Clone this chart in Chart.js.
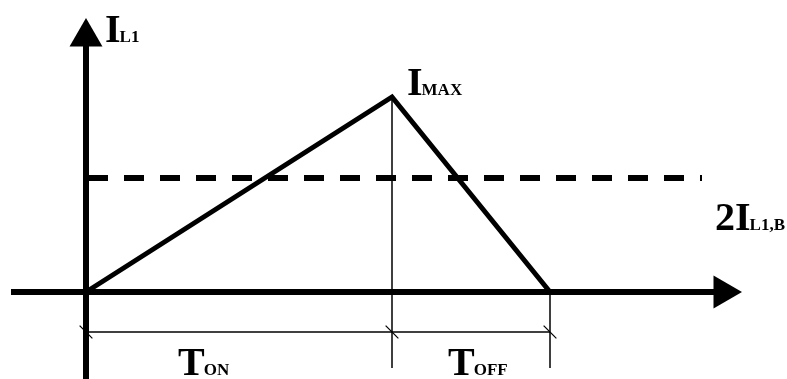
<!DOCTYPE html>
<html>
<head>
<meta charset="utf-8">
<script src="https://cdn.jsdelivr.net/npm/chart.js@4.4.1/dist/chart.umd.min.js"></script>
<style>
  html, body { margin: 0; padding: 0; background: #fff; }
  #box { width: 787px; height: 379px; }
</style>
</head>
<body>
<div id="box"><canvas id="grafico" width="787" height="379"></canvas></div>
<script>
// Tempos (unidades do eixo x) e correntes (unidades do eixo y)
const temposX = [0, 306, 464];          // inicio, fim de TON, fim de TOFF
const correnteIL1 = [0, 195, 0];        // forma de onda triangular
const nivelBoundary = 114;              // 2IL1,B
const tracejadoX = [2, 616];            // extensao da linha tracejada
const eixoX = [-75, 637];               // eixo horizontal (ponta da seta no fim)
const eixoY = [-87, 255];               // eixo vertical (ponta da seta no fim)
const nivelCota = -40;                  // linha de cota de TON / TOFF
const fundoGuias = -76;                 // fim das linhas de chamada

// Rotulos: texto principal, subscrito e ancora (x, y)
const rotulos = [
    { txt: 'I', sub: 'L1', x: 19, y: 250 },
    { txt: 'I', sub: 'MAX', x: 321, y: 197 },
    { txt: '2I', sub: 'L1,B', x: 629, y: 62 },
    { txt: 'T', sub: 'ON', x: 92, y: -83 },
    { txt: 'T', sub: 'OFF', x: 362, y: -83 }
];

function pts(xs, ys) {
    return xs.map((x, i) => ({ x: x, y: ys[i] }));
}

const pluginRotulos = {
    id: 'rotulos',
    afterDatasetsDraw(chart) {
        const ctx = chart.ctx;
        const sx = chart.scales.x, sy = chart.scales.y;
        ctx.save();
        ctx.fillStyle = '#000';
        ctx.textBaseline = 'alphabetic';
        rotulos.forEach(r => {
            let px = sx.getPixelForValue(r.x);
            const py = sy.getPixelForValue(r.y);
            ctx.font = 'bold 40px "Liberation Serif"';
            ctx.fillText(r.txt, px, py);
            px += ctx.measureText(r.txt).width - 1;
            ctx.font = 'bold 17px "Liberation Serif"';
            ctx.fillText(r.sub, px, py);
        });
        ctx.restore();
    }
};

const topo = temposX[1];
const ctx = document.getElementById('grafico').getContext('2d');

new Chart(ctx, {
    type: 'scatter',
    data: {
        datasets: [
            // eixo horizontal
            { data: pts(eixoX, [0, 0]), showLine: true, borderColor: '#000', borderWidth: 6, pointRadius: 0 },
            // eixo vertical
            { data: pts([0, 0], eixoY), showLine: true, borderColor: '#000', borderWidth: 6, pointRadius: 0 },
            // setas
            { data: [{ x: 0, y: eixoY[1] }], pointStyle: 'triangle', pointRadius: 19, backgroundColor: '#000', borderWidth: 0 },
            { data: [{ x: eixoX[1], y: 0 }], pointStyle: 'triangle', rotation: 90, pointRadius: 19, backgroundColor: '#000', borderWidth: 0 },
            // forma de onda IL1
            { data: pts(temposX, correnteIL1), showLine: true, borderColor: '#000', borderWidth: 5, pointRadius: 0, borderJoinStyle: 'miter' },
            // 2IL1,B tracejada
            { data: pts(tracejadoX, [nivelBoundary, nivelBoundary]), showLine: true, borderColor: '#000', borderWidth: 6, borderDash: [20, 16], pointRadius: 0 },
            // linhas de chamada
            { data: pts([topo, topo], [correnteIL1[1], fundoGuias]), showLine: true, borderColor: '#000', borderWidth: 1.5, pointRadius: 0 },
            { data: pts([temposX[2], temposX[2]], [0, fundoGuias]), showLine: true, borderColor: '#000', borderWidth: 1.5, pointRadius: 0 },
            // linha de cota
            { data: pts([temposX[0], temposX[2]], [nivelCota, nivelCota]), showLine: true, borderColor: '#000', borderWidth: 1.5, pointRadius: 0 },
            // marcas da cota
            { data: temposX.map(x => ({ x: x, y: nivelCota })), pointStyle: 'line', rotation: 45, pointRadius: 9, borderColor: '#000', borderWidth: 1.2 }
        ]
    },
    options: {
        responsive: false,
        animation: false,
        clip: false,
        layout: { padding: 0, autoPadding: false },
        scales: {
            x: { type: 'linear', min: -86, max: 701, display: false },
            y: { type: 'linear', min: -87, max: 292, display: false }
        },
        plugins: {
            legend: { display: false },
            tooltip: { enabled: false }
        },
        elements: { line: { tension: 0 } }
    },
    plugins: [pluginRotulos]
});
</script>
</body>
</html>
